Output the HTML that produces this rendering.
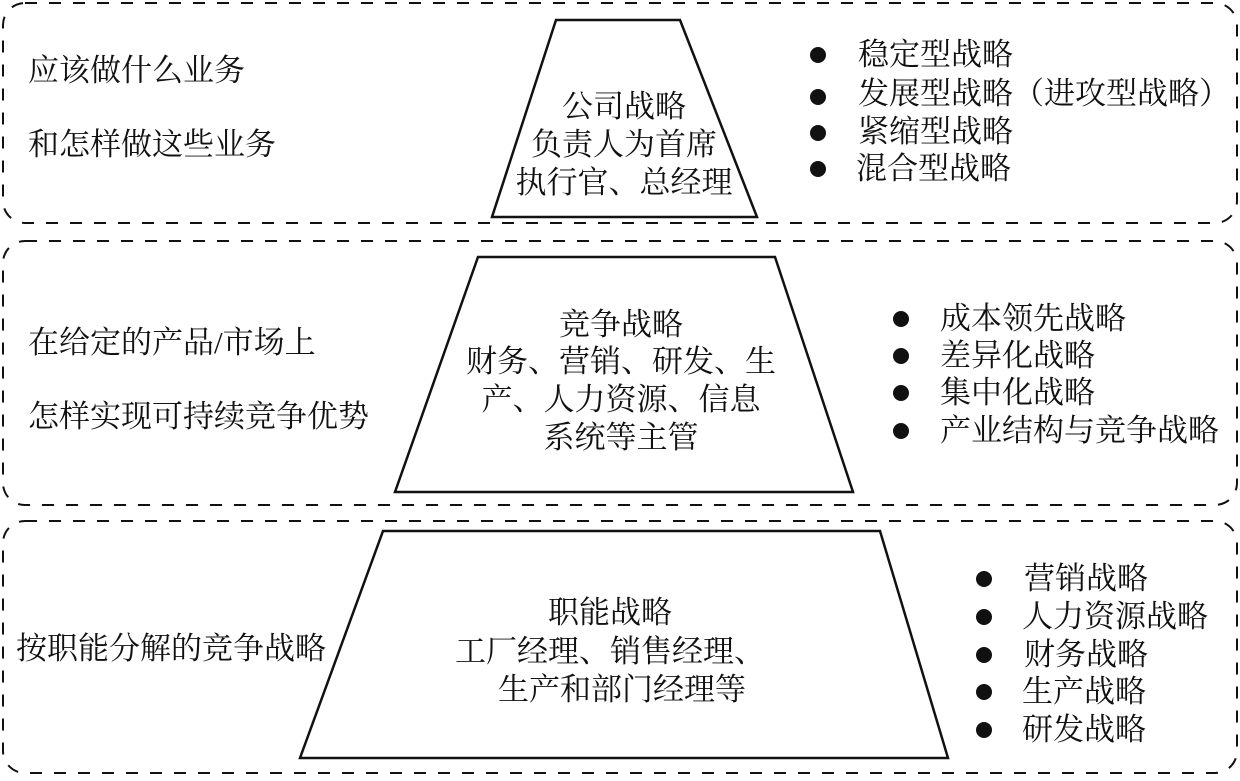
<!DOCTYPE html>
<html><head><meta charset="utf-8"><style>
html,body{margin:0;padding:0;background:#fff;}
svg text{font-family:"Liberation Serif","Noto Serif CJK SC","Noto Serif CJK",serif;font-size:31px;fill:#111;}
</style></head><body>
<svg width="1240" height="776" viewBox="0 0 1240 776" xmlns="http://www.w3.org/2000/svg">
<g fill="none" stroke="#111" stroke-width="2" stroke-dasharray="12 12">
<rect x="3" y="3" width="1234" height="220" rx="22"/>
<rect x="3" y="241" width="1234" height="264" rx="22"/>
<rect x="3" y="521" width="1234" height="252" rx="22"/>
</g>
<g fill="none" stroke="#111" stroke-width="2.5">
<polygon points="556,20 680,20 757,217 492,217"/>
<polygon points="478,257 775,257 853,492 395,492"/>
<polygon points="383,531 880,531 948,758 300,758"/>
</g>
<text x="28" y="81">应该做什么业务</text>
<text x="28" y="155">和怎样做这些业务</text>
<text x="624" y="117" text-anchor="middle">公司战略</text>
<text x="624" y="155" text-anchor="middle">负责人为首席</text>
<text x="624" y="193" text-anchor="middle">执行官、总经理</text>
<g fill="#111"><circle cx="818" cy="55" r="8"/><circle cx="818" cy="97" r="8"/><circle cx="818" cy="133" r="8"/><circle cx="818" cy="169" r="8"/></g>
<text x="858" y="65">稳定型战略</text>
<text x="858" y="104">发展型战略（进攻型战略）</text>
<text x="858" y="142">紧缩型战略</text>
<text x="856" y="179">混合型战略</text>
<text x="28" y="353">在给定的产品/市场上</text>
<text x="28" y="427">怎样实现可持续竞争优势</text>
<text x="621" y="335" text-anchor="middle">竞争战略</text>
<text x="621" y="372" text-anchor="middle">财务、营销、研发、生</text>
<text x="621" y="410" text-anchor="middle">产、人力资源、信息</text>
<text x="621" y="448" text-anchor="middle">系统等主管</text>
<g fill="#111"><circle cx="901" cy="319" r="8"/><circle cx="901" cy="356" r="8"/><circle cx="901" cy="393" r="8"/><circle cx="901" cy="431" r="8"/></g>
<text x="940" y="329">成本领先战略</text>
<text x="940" y="366">差异化战略</text>
<text x="940" y="403">集中化战略</text>
<text x="940" y="441">产业结构与竞争战略</text>
<text x="16" y="659">按职能分解的竞争战略</text>
<text x="610" y="623" text-anchor="middle">职能战略</text>
<text x="610" y="662" text-anchor="middle">工厂经理、销售经理、</text>
<text x="622" y="700" text-anchor="middle">生产和部门经理等</text>
<g fill="#111"><circle cx="984" cy="579" r="8"/><circle cx="984" cy="617" r="8"/><circle cx="984" cy="655" r="8"/><circle cx="984" cy="692" r="8"/><circle cx="984" cy="730" r="8"/></g>
<text x="1024" y="589">营销战略</text>
<text x="1022" y="627">人力资源战略</text>
<text x="1024" y="665">财务战略</text>
<text x="1022" y="702">生产战略</text>
<text x="1022" y="740">研发战略</text>
</svg>
</body></html>
